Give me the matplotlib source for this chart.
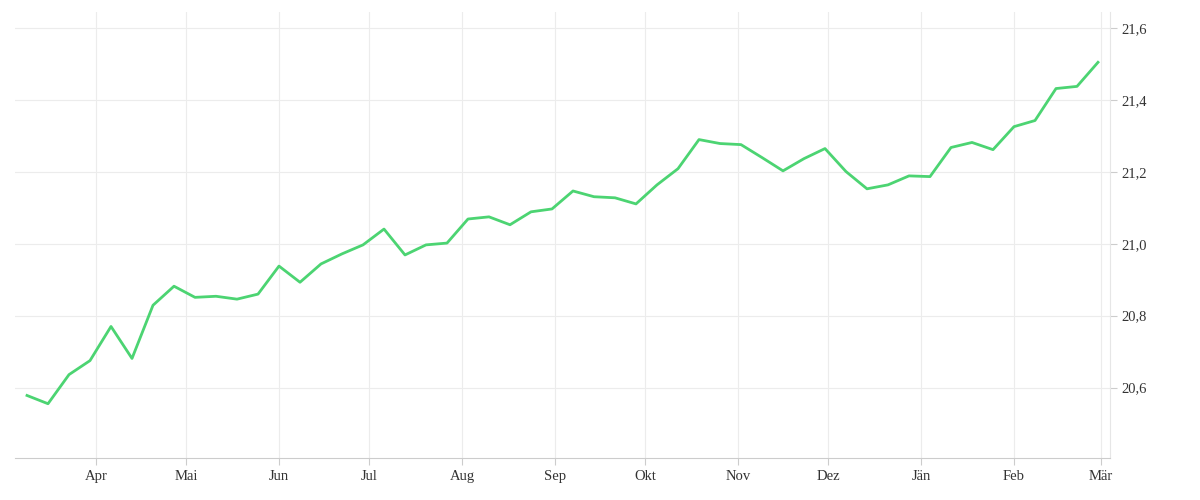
import matplotlib
matplotlib.use("Agg")
import matplotlib.pyplot as plt
import matplotlib.dates as mdates
import numpy as np
import datetime as dt

start = dt.date(2023, 3, 9)
values = [20.578, 20.555, 20.636, 20.675, 20.770, 20.681, 20.829, 20.882, 20.851, 20.854,
          20.846, 20.860, 20.938, 20.893, 20.944, 20.972, 20.997, 21.041, 20.969, 20.997,
          21.002, 21.069, 21.075, 21.053, 21.089, 21.097, 21.147, 21.131, 21.128, 21.111,
          21.164, 21.209, 21.290, 21.279, 21.276, 21.240, 21.203, 21.237, 21.265, 21.201,
          21.153, 21.164, 21.189, 21.187, 21.268, 21.282, 21.262, 21.326, 21.343, 21.432,
          21.438, 21.505]
dates = [start + dt.timedelta(weeks=i) for i in range(len(values))]
month_labels = ["Apr", "Mai", "Jun", "Jul", "Aug", "Sep", "Okt", "Nov", "Dez", "Jän", "Feb", "Mär"]
month_dates = [dt.date(2023 + (3 + i) // 12, (3 + i) % 12 + 1, 1) for i in range(12)]
yticks = [20.6, 20.8, 21.0, 21.2, 21.4, 21.6]

plt.rcParams['font.family'] = ['Liberation Serif', 'DejaVu Serif']
fig = plt.figure(figsize=(12, 5), dpi=100)
ax = fig.add_axes([0.0125, 0.084, 0.9125, 0.892])
ax.plot(dates, values, color="#4cd472", lw=2)
ax.set_xlim(dates[0] - dt.timedelta(days=4), dt.date(2024, 3, 4))
ax.set_ylim(20.404, 21.645)
ax.yaxis.tick_right()
ax.set_yticks(yticks)
ax.set_yticklabels([f"{v:.1f}".replace(".", ",") for v in yticks])
ax.set_xticks(month_dates)
ax.set_xticklabels(month_labels)
ax.tick_params(colors="#333333", labelsize=10.5, length=5, color="#cccccc")
ax.grid(True, color="#ececec", lw=0.8)
for s in ["top", "left"]:
    ax.spines[s].set_visible(False)
ax.spines["bottom"].set_color("#cccccc")
ax.spines["right"].set_color("#e6e6e6")
fig.savefig("out.png", dpi=100, facecolor="white")
